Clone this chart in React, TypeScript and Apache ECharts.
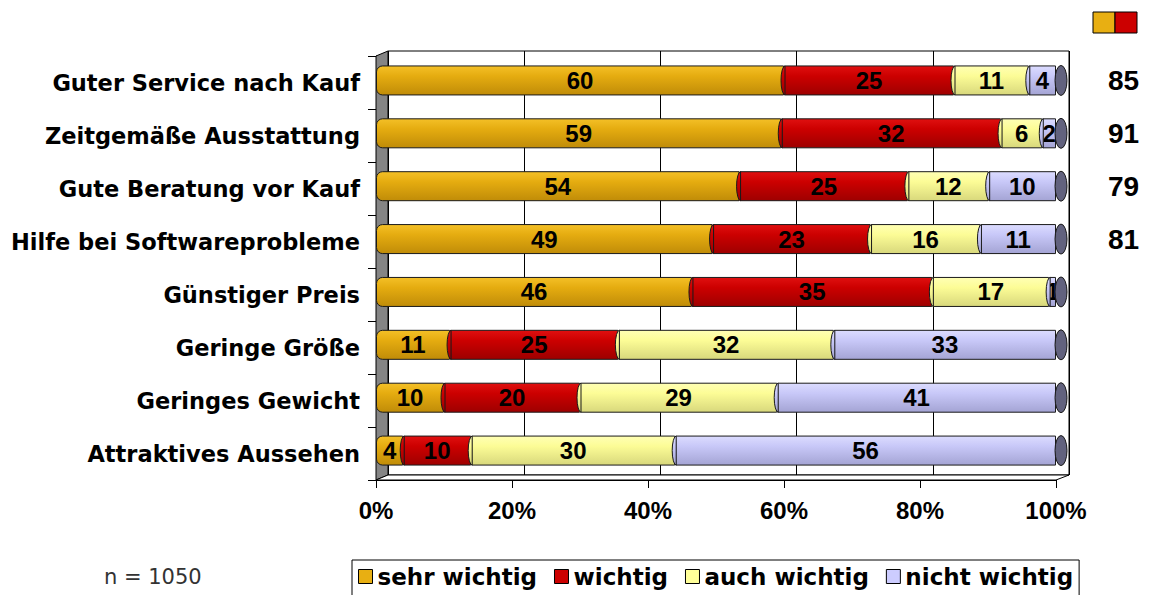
import React, { useEffect, useRef } from "react";
import * as echarts from "echarts";

const categories = [
  "Guter Service nach Kauf",
  "Zeitgemäße Ausstattung",
  "Gute Beratung vor Kauf",
  "Hilfe bei Softwareprobleme",
  "Günstiger Preis",
  "Geringe Größe",
  "Geringes Gewicht",
  "Attraktives Aussehen",
];
const seriesNames = ["sehr wichtig", "wichtig", "auch wichtig", "nicht wichtig"];
const sehrWichtig = [60, 59, 54, 49, 46, 11, 10, 4];
const wichtig = [25, 32, 25, 23, 35, 25, 20, 10];
const auchWichtig = [11, 6, 12, 16, 17, 32, 29, 30];
const nichtWichtig = [4, 2, 10, 11, 1, 33, 41, 56];
const totals = ["85", "91", "79", "81"];
const xTicks = [0, 20, 40, 60, 80, 100];
const sampleNote = "n = 1050";

const flatColors = ["#E8AF12", "#CC0000", "#FFFF99", "#CCCCFF"];
const gradStops = [
  ["#F4C027", "#E5AC10", "#C08C08"],
  ["#E01010", "#CC0000", "#9E0000"],
  ["#FFFFB4", "#FCFC96", "#D8D87C"],
  ["#DCDCFF", "#C8C8F8", "#A4A4D4"],
];

const NUM_FONT = "'Liberation Sans', Arial, sans-serif";
const TXT_FONT = "'DejaVu Sans', sans-serif";

const grad = (si: number) => ({
  type: "linear",
  x: 0,
  y: 0,
  x2: 0,
  y2: 1,
  colorStops: [
    { offset: 0, color: gradStops[si][0] },
    { offset: 0.35, color: gradStops[si][1] },
    { offset: 1, color: gradStops[si][2] },
  ],
});

export default function App() {
  const ref = useRef<HTMLDivElement>(null);
  useEffect(() => {
    if (!ref.current) return;
    const chart = echarts.init(ref.current, null, { renderer: "svg" });
    const raws = [sehrWichtig, wichtig, auchWichtig, nichtWichtig];
    const sums = categories.map((_, i) => raws.reduce((s, arr) => s + arr[i], 0));
    const pcts = raws.map((arr) => arr.map((v, i) => (v / sums[i]) * 100));

    const barSeries = raws.map((arr, si) => ({
      name: seriesNames[si],
      type: "bar",
      stack: "total",
      xAxisIndex: 0,
      yAxisIndex: 0,
      barWidth: 30,
      z: 2,
      data: arr.map((v, i) => ({ value: pcts[si][i], raw: v })),
      itemStyle: {
        color: grad(si),
        borderColor: "#1a1a1a",
        borderWidth: 1,
        borderRadius: si === 0 ? [6, 0, 0, 6] : 0,
      },
      label: {
        show: true,
        position: "inside",
        formatter: (p: any) => String(p.data.raw),
        fontFamily: NUM_FONT,
        fontWeight: "bold",
        fontSize: 24,
        color: "#000",
      },
    }));

    // curved "(" boundaries at the start of each following segment
    const boundaryData: number[][] = [];
    for (let si = 1; si < raws.length; si++) {
      categories.forEach((_, i) => {
        let start = 0;
        for (let k = 0; k < si; k++) start += pcts[k][i];
        boundaryData.push([start, i, si]);
      });
    }
    const boundarySeries = {
      type: "custom",
      xAxisIndex: 0,
      yAxisIndex: 0,
      z: 3,
      silent: true,
      data: boundaryData,
      encode: { x: 0, y: 1 },
      renderItem: (params: any, api: any) => {
        const p = api.coord([api.value(0), api.value(1)]);
        const si = api.value(2);
        const cx = p[0] + 1;
        const cy = p[1];
        const rx = 4;
        const ry = 14.5;
        return {
          type: "path",
          shape: {
            pathData: `M ${cx} ${cy - ry} A ${rx} ${ry} 0 0 0 ${cx} ${cy + ry} Z`,
          },
          style: { fill: grad(si), stroke: "#1a1a1a", lineWidth: 1 },
        };
      },
    };

    const capSeries = {
      type: "custom",
      xAxisIndex: 0,
      yAxisIndex: 0,
      z: 4,
      silent: true,
      data: categories.map((_, i) => [100, i]),
      encode: { x: 0, y: 1 },
      renderItem: (params: any, api: any) => {
        const p = api.coord([api.value(0), api.value(1)]);
        const cx = p[0] + 5;
        const cy = p[1];
        const rx = 6;
        const ry = 15;
        return {
          type: "path",
          shape: {
            pathData: `M ${cx - rx} ${cy} A ${rx} ${ry} 0 1 0 ${cx + rx} ${cy} A ${rx} ${ry} 0 1 0 ${cx - rx} ${cy} Z`,
          },
          style: { fill: "#62627E", stroke: "#1a1a1a", lineWidth: 1 },
        };
      },
    };

    const option: any = {
      animation: false,
      backgroundColor: "#fff",
      grid: [
        { left: 376, right: 101, top: 54, bottom: 118 },
        { left: 376, right: 101, top: 56, bottom: 115 },
        {
          left: 388,
          right: 88,
          top: 51,
          bottom: 120,
          show: true,
          borderColor: "#000",
          borderWidth: 1,
          backgroundColor: "#fff",
        },
      ],
      xAxis: [
        { gridIndex: 0, type: "value", min: 0, max: 100, show: false },
        {
          gridIndex: 1,
          type: "value",
          min: xTicks[0],
          max: xTicks[xTicks.length - 1],
          interval: 20,
          axisLine: { show: true, lineStyle: { color: "#000", width: 1 } },
          axisTick: { show: true, length: 8, lineStyle: { color: "#000" } },
          axisLabel: {
            formatter: "{value}%",
            margin: 18,
            fontFamily: NUM_FONT,
            fontWeight: "bold",
            fontSize: 24,
            color: "#000",
          },
          splitLine: { show: false },
        },
        {
          gridIndex: 2,
          type: "value",
          min: 0,
          max: 100,
          interval: 20,
          axisLine: { show: false },
          axisTick: { show: false },
          axisLabel: { show: false },
          splitLine: { show: true, lineStyle: { color: "#000", width: 1 } },
        },
      ],
      yAxis: [
        { gridIndex: 0, type: "category", data: categories, inverse: true, show: false },
        {
          gridIndex: 1,
          type: "category",
          data: categories,
          inverse: true,
          axisLine: { show: true, lineStyle: { color: "#000" } },
          axisTick: { show: true, length: 8, lineStyle: { color: "#000" } },
          axisLabel: {
            margin: 16,
            fontFamily: TXT_FONT,
            fontWeight: "bold",
            fontSize: 22.5,
            color: "#000",
          },
          splitLine: { show: false },
        },
        { gridIndex: 2, type: "category", data: categories, show: false },
        {
          gridIndex: 0,
          type: "category",
          data: categories,
          inverse: true,
          position: "right",
          axisLine: { show: false },
          axisTick: { show: false },
          splitLine: { show: false },
          axisLabel: {
            margin: 52,
            align: "left",
            formatter: (_v: string, i: number) => totals[i] ?? "",
            fontFamily: NUM_FONT,
            fontWeight: "bold",
            fontSize: 28,
            color: "#000",
          },
        },
      ],
      legend: {
        left: 352,
        top: 560,
        orient: "horizontal",
        selectedMode: false,
        icon: "rect",
        itemWidth: 14,
        itemHeight: 14,
        itemGap: 17,
        padding: [5, 6, 8, 6],
        borderColor: "#000",
        borderWidth: 1,
        backgroundColor: "#fff",
        textStyle: { fontFamily: TXT_FONT, fontWeight: "bold", fontSize: 23, color: "#000" },
        data: seriesNames.map((n, i) => ({
          name: n,
          itemStyle: { color: flatColors[i], borderColor: "#000", borderWidth: 1 },
        })),
      },
      graphic: [
        {
          type: "polygon",
          z: 1,
          shape: { points: [[376, 56], [388, 51], [388, 475], [376, 480]] },
          style: { fill: "#858585", stroke: "#000", lineWidth: 1 },
        },
        {
          type: "polygon",
          z: 1,
          shape: { points: [[376, 480], [388, 475], [1069, 475], [1056, 480]] },
          style: { fill: "#fff", stroke: "#000", lineWidth: 1 },
        },
        {
          type: "rect",
          z: 1,
          shape: { x: 1093, y: 12, width: 22, height: 21 },
          style: { fill: flatColors[0], stroke: "#000", lineWidth: 1 },
        },
        {
          type: "rect",
          z: 1,
          shape: { x: 1115, y: 12, width: 22, height: 21 },
          style: { fill: flatColors[1], stroke: "#000", lineWidth: 1 },
        },
        {
          type: "text",
          z: 1,
          x: 104,
          y: 577,
          style: {
            text: sampleNote,
            fontFamily: TXT_FONT,
            fontSize: 21,
            fill: "#333",
            verticalAlign: "middle",
          },
        },
      ],
      series: [...barSeries, boundarySeries, capSeries],
    };
    chart.setOption(option);
    return () => chart.dispose();
  }, []);
  return (
    <div
      ref={ref}
      style={{ position: "fixed", left: 0, top: 0, width: 1157, height: 595 }}
    />
  );
}
